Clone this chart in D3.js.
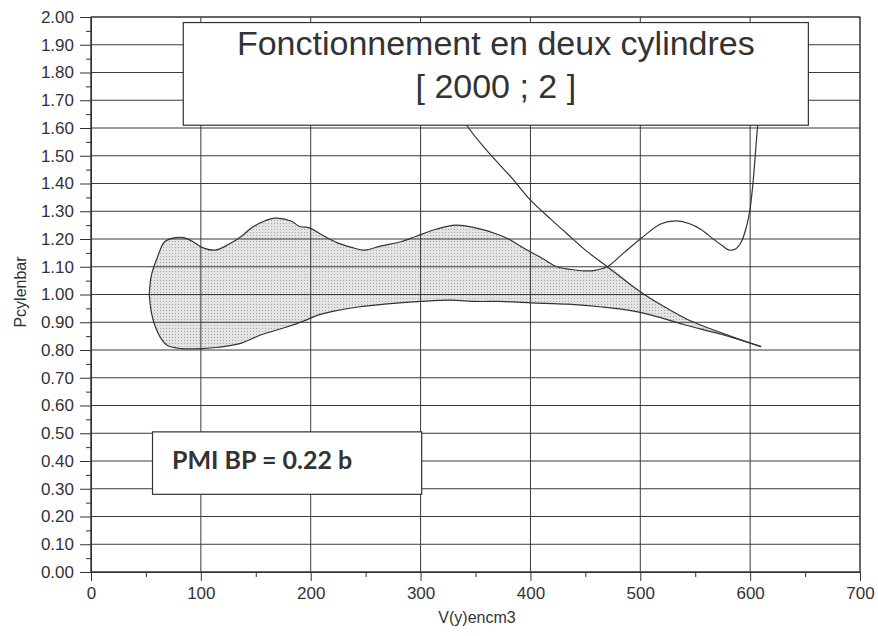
<!DOCTYPE html>
<html>
<head>
<meta charset="utf-8">
<script src="https://d3js.org/d3.v7.min.js"></script>
<style>
    body { margin: 0; background: #ffffff; }
    text { font-family: "Liberation Sans", Arial, sans-serif; fill: #333; }
</style>
</head>
<body>
<div id="chart"></div>
<script>
    // Upper branch of the cycle (intake side), V in cm3 and P in bar
    var upperV = [53, 55, 61, 67, 77, 84, 93, 101, 113, 125, 137, 146, 158, 167, 182, 190, 199, 210, 225, 237, 249, 264, 282, 296, 314, 332, 350, 368, 380, 397, 411, 424, 437, 449, 460, 470, 485, 500, 519, 533, 545, 555, 568, 575, 581, 587, 592, 597, 600, 603, 605, 607, 609];
    var upperP = [1.00, 1.07, 1.14, 1.19, 1.205, 1.205, 1.19, 1.17, 1.16, 1.18, 1.21, 1.24, 1.265, 1.275, 1.265, 1.245, 1.24, 1.215, 1.185, 1.17, 1.16, 1.175, 1.19, 1.21, 1.235, 1.25, 1.24, 1.22, 1.20, 1.16, 1.13, 1.10, 1.09, 1.085, 1.088, 1.10, 1.15, 1.20, 1.255, 1.265, 1.255, 1.235, 1.195, 1.175, 1.16, 1.165, 1.19, 1.25, 1.31, 1.42, 1.52, 1.62, 1.72];

    // Lower branch
    var lowerV = [53, 55, 58, 64, 70, 82, 101, 116, 137, 155, 176, 194, 206, 221, 243, 267, 300, 327, 351, 373, 400, 434, 465, 494, 520, 541, 575, 610];
    var lowerP = [1.00, 0.935, 0.89, 0.84, 0.815, 0.805, 0.805, 0.81, 0.825, 0.855, 0.88, 0.905, 0.925, 0.94, 0.955, 0.965, 0.975, 0.98, 0.975, 0.975, 0.97, 0.965, 0.955, 0.94, 0.915, 0.89, 0.855, 0.812];

    // Descending line
    var descV = [335, 342, 360, 383, 400, 419, 433, 450, 470, 500, 520, 543, 575, 610];
    var descP = [1.66, 1.61, 1.52, 1.42, 1.34, 1.27, 1.22, 1.16, 1.10, 1.01, 0.96, 0.91, 0.86, 0.812];

    var crossV = 470;

    var xTicks = [0, 100, 200, 300, 400, 500, 600, 700];
    var yTicks = d3.range(0, 21).map(function(i) { return i / 10; });

    var titleLines = ["Fonctionnement en deux cylindres", "[ 2000 ; 2 ]"];
    var noteText = "PMI BP = 0.22 b";

    var W = 878, H = 636;

    var svg = d3.select("#chart").append("svg")
        .attr("width", W)
        .attr("height", H);

    var x = d3.scaleLinear().domain([0, 700]).range([91, 860]);
    var y = d3.scaleLinear().domain([0, 2]).range([572, 17]);

    var upper = upperV.map(function(v, i) { return [v, upperP[i]]; });
    var lower = lowerV.map(function(v, i) { return [v, lowerP[i]]; });
    var desc = descV.map(function(v, i) { return [v, descP[i]]; });

    var line = d3.line()
        .x(function(d) { return x(d[0]); })
        .y(function(d) { return y(d[1]); })
        .curve(d3.curveCatmullRom);

    // stippled grey fill like the scan
    var pat = svg.append("defs").append("pattern")
        .attr("id", "stipple")
        .attr("width", 3).attr("height", 3)
        .attr("patternUnits", "userSpaceOnUse");
    pat.append("rect").attr("width", 3).attr("height", 3).attr("fill", "#e4e4e4");
    pat.append("rect").attr("x", 1).attr("y", 1).attr("width", 1).attr("height", 1).attr("fill", "#a8a8a8");

    // shaded loop: upper up to the crossing, then the descending line, then lower back
    var loop = upper.filter(function(d) { return d[0] <= crossV; })
        .concat(desc.filter(function(d) { return d[0] > crossV; }))
        .concat(lower.slice().reverse());

    svg.append("path")
        .attr("d", line(loop) + "Z")
        .attr("fill", "url(#stipple)")
        .attr("stroke", "none");

    // grid
    svg.append("g").selectAll("line")
        .data(yTicks)
        .join("line")
        .attr("x1", x(0)).attr("x2", x(700))
        .attr("y1", function(d) { return y(d); })
        .attr("y2", function(d) { return y(d); })
        .attr("stroke", "#3a3a3a")
        .attr("stroke-width", 1);

    svg.append("g").selectAll("line")
        .data(xTicks)
        .join("line")
        .attr("x1", function(d) { return x(d); })
        .attr("x2", function(d) { return x(d); })
        .attr("y1", y(0)).attr("y2", y(2))
        .attr("stroke", "#3a3a3a")
        .attr("stroke-width", 1);

    // curves
    [upper, lower, desc].forEach(function(s) {
        svg.append("path")
            .attr("d", line(s))
            .attr("fill", "none")
            .attr("stroke", "#333")
            .attr("stroke-width", 1.2);
    });

    // axes
    svg.append("g")
        .attr("transform", "translate(" + x(0) + ",0)")
        .call(d3.axisLeft(y).tickValues(yTicks).tickFormat(d3.format(".2f")).tickSize(11).tickPadding(6));
    svg.append("g")
        .attr("transform", "translate(" + x(0) + ",0)")
        .call(d3.axisLeft(y).tickValues(yTicks.map(function(d) { return d + 0.05; }).filter(function(d) { return d < 2; })).tickFormat("").tickSize(5));

    svg.append("g")
        .attr("transform", "translate(0," + y(0) + ")")
        .call(d3.axisBottom(x).tickValues(xTicks).tickFormat(d3.format("d")).tickSize(9).tickPadding(6));
    svg.append("g")
        .attr("transform", "translate(0," + y(0) + ")")
        .call(d3.axisBottom(x).tickValues([50, 150, 250, 350, 450, 550, 650]).tickFormat("").tickSize(5));

    svg.selectAll(".domain").attr("stroke", "#333");
    svg.selectAll(".tick line").attr("stroke", "#333");
    svg.selectAll(".tick text")
        .style("font-family", "'Liberation Sans', Arial, sans-serif")
        .style("font-size", "17px")
        .attr("fill", "#333");

    // top/right frame
    svg.append("rect")
        .attr("x", x(0)).attr("y", y(2))
        .attr("width", x(700) - x(0))
        .attr("height", y(0) - y(2))
        .attr("fill", "none")
        .attr("stroke", "#333");

    // axis titles
    svg.append("text")
        .attr("x", 477)
        .attr("y", 623)
        .attr("text-anchor", "middle")
        .style("font-size", "16px")
        .text("V(y)encm3");

    svg.append("text")
        .attr("transform", "translate(26,292) rotate(-90)")
        .attr("text-anchor", "middle")
        .style("font-size", "16px")
        .text("Pcylenbar");

    // title box
    var tb = { x0: 84, x1: 653, y0: 1.98, y1: 1.61 };
    svg.append("rect")
        .attr("x", x(tb.x0)).attr("y", y(tb.y0))
        .attr("width", x(tb.x1) - x(tb.x0))
        .attr("height", y(tb.y1) - y(tb.y0))
        .attr("fill", "#fff")
        .attr("stroke", "#333")
        .attr("stroke-width", 1.2);

    svg.append("g").selectAll("text")
        .data(titleLines)
        .join("text")
        .attr("x", (x(tb.x0) + x(tb.x1)) / 2)
        .attr("y", function(d, i) { return 55 + i * 43; })
        .attr("text-anchor", "middle")
        .style("font-family", "'Liberation Sans', Arial, sans-serif")
        .style("font-size", "34px")
        .attr("fill", "#444")
        .text(function(d) { return d; });

    // PMI box
    var nb = { x0: 56, x1: 301, y0: 0.505, y1: 0.28 };
    svg.append("rect")
        .attr("x", x(nb.x0)).attr("y", y(nb.y0))
        .attr("width", x(nb.x1) - x(nb.x0))
        .attr("height", y(nb.y1) - y(nb.y0))
        .attr("fill", "#fff")
        .attr("stroke", "#333")
        .attr("stroke-width", 1.2);

    svg.append("text")
        .attr("x", 172)
        .attr("y", 469)
        .style("font-family", "Lato, 'Open Sans', sans-serif")
        .style("font-weight", "bold")
        .style("font-size", "25px")
        .attr("fill", "#333")
        .text(noteText);
</script>
</body>
</html>
